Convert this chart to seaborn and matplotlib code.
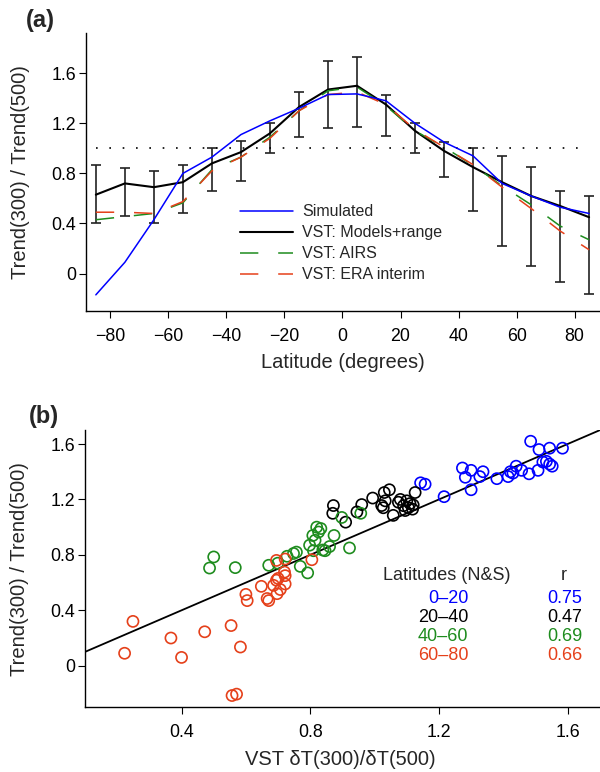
import numpy as np
import pandas as pd
import seaborn as sns
import matplotlib.pyplot as plt

# panel (a): ratio of trends vs latitude
lat = [-85, -75, -65, -55, -45, -35, -25, -15, -5, 5, 15, 25, 35, 45, 55, 65, 75, 85]
simulated = [-0.17, 0.09, 0.43, 0.80, 0.93, 1.11, 1.22, 1.32, 1.43, 1.435, 1.38, 1.20, 1.05, 0.94, 0.72, 0.62, 0.53, 0.48]
models = [0.63, 0.72, 0.69, 0.73, 0.88, 0.97, 1.12, 1.33, 1.47, 1.50, 1.35, 1.14, 0.98, 0.85, 0.73, 0.62, 0.54, 0.45]
models_lo = [0.40, 0.456, 0.405, 0.48, 0.66, 0.74, 0.96, 1.09, 1.16, 1.17, 1.10, 0.96, 0.77, 0.50, 0.22, 0.06, -0.07, -0.16]
models_hi = [0.87, 0.84, 0.82, 0.87, 1.00, 1.06, 1.205, 1.45, 1.70, 1.73, 1.43, 1.20, 1.05, 1.00, 0.94, 0.85, 0.66, 0.62]
airs = [0.43, 0.455, 0.48, 0.565, 0.83, 0.93, 1.09, 1.30, 1.46, 1.49, 1.34, 1.14, 1.01, 0.865, 0.70, 0.55, 0.38, 0.27]
era = [0.49, 0.49, 0.48, 0.575, 0.82, 0.93, 1.08, 1.30, 1.43, 1.45, 1.35, 1.15, 1.01, 0.87, 0.69, 0.52, 0.34, 0.19]

yticks = [0, 0.4, 0.8, 1.2, 1.6]
yticklabels = ['0', '0.4', '0.8', '1.2', '1.6']
xticks_a = [-80, -60, -40, -20, 0, 20, 40, 60, 80]
xticks_b = [0.4, 0.8, 1.2, 1.6]

# panel (b): scatter by latitude band
x_0_20 = [1.143, 1.157, 1.216, 1.273, 1.282, 1.30, 1.30, 1.327, 1.337, 1.38, 1.415, 1.422, 1.44,
          1.457, 1.48, 1.508, 1.523, 1.544, 1.552, 1.485, 1.511, 1.544, 1.584, 1.534, 1.43]
y_0_20 = [1.32, 1.31, 1.22, 1.427, 1.36, 1.41, 1.27, 1.365, 1.40, 1.35, 1.365, 1.40, 1.44,
          1.41, 1.385, 1.41, 1.47, 1.455, 1.44, 1.62, 1.56, 1.57, 1.57, 1.475, 1.39]
x_20_40 = [0.872, 0.87, 0.91, 0.945, 0.96, 0.994, 1.03, 1.046, 1.022, 1.033, 1.027, 1.058, 1.074,
           1.09, 1.10, 1.11, 1.118, 1.126, 1.12, 1.08, 1.105, 1.095]
y_20_40 = [1.156, 1.10, 1.036, 1.11, 1.163, 1.21, 1.25, 1.27, 1.156, 1.19, 1.14, 1.085, 1.18,
           1.155, 1.19, 1.17, 1.13, 1.25, 1.16, 1.20, 1.14, 1.12]
x_40_60 = [0.487, 0.50, 0.567, 0.671, 0.699, 0.728, 0.748, 0.757, 0.769, 0.792, 0.798, 0.808, 0.815,
           0.826, 0.833, 0.82, 0.81, 0.839, 0.846, 0.874, 0.922, 0.898, 0.957, 0.86]
y_40_60 = [0.705, 0.785, 0.708, 0.725, 0.74, 0.79, 0.81, 0.82, 0.717, 0.67, 0.87, 0.94, 0.905,
           0.965, 0.99, 1.00, 0.83, 0.835, 0.83, 0.94, 0.85, 1.07, 1.10, 0.86]
x_60_80 = [0.249, 0.223, 0.367, 0.40, 0.472, 0.554, 0.583, 0.557, 0.571, 0.60, 0.604, 0.648, 0.666,
           0.671, 0.686, 0.697, 0.707, 0.722, 0.695, 0.722, 0.72, 0.695, 0.722, 0.805, 0.70]
y_60_80 = [0.32, 0.09, 0.20, 0.06, 0.245, 0.29, 0.135, -0.215, -0.205, 0.515, 0.47, 0.573, 0.485,
           0.47, 0.58, 0.52, 0.55, 0.59, 0.617, 0.65, 0.676, 0.76, 0.77, 0.765, 0.63]

bands = ['0\u201320', '20\u201340', '40\u201360', '60\u201380']
r_values = ['0.75', '0.47', '0.69', '0.66']
band_colors = ['#0000ff', '#000000', '#1e8c1e', '#e5401a']

sns.set_style('ticks')
plt.rcParams['font.family'] = ['Liberation Sans', 'DejaVu Sans']
plt.rcParams['axes.linewidth'] = 1.0
plt.rcParams['xtick.major.size'] = 5
plt.rcParams['ytick.major.size'] = 5
plt.rcParams['xtick.color'] = 'black'
plt.rcParams['ytick.color'] = 'black'
plt.rcParams['axes.edgecolor'] = 'black'

fig = plt.figure(figsize=(6, 7.72), dpi=100)
ax1 = fig.add_axes([0.1433, 0.597, 0.855, 0.36])
ax2 = fig.add_axes([0.1417, 0.0838, 0.858, 0.359])

# ---- (a)
lat_arr = np.array(lat)
mod = np.array(models)
ax1.errorbar(lat_arr, mod, yerr=[mod - np.array(models_lo), np.array(models_hi) - mod],
             fmt='none', ecolor='#222222', elinewidth=1.2, capsize=3.6, capthick=1.2, zorder=1)
ax1.plot([lat[0], lat[-1]], [1, 1], ls=(0, (1, 7)), color='black', lw=1.2, zorder=1)
sns.lineplot(x=lat, y=simulated, color='#0000ff', lw=1.1, ax=ax1, label='Simulated', zorder=3)
sns.lineplot(x=lat, y=models, color='black', lw=1.5, ax=ax1, label='VST: Models+range', zorder=2)
sns.lineplot(x=lat, y=airs, color='#1e8c1e', lw=1.1, ls=(0, (12, 13)), ax=ax1, label='VST: AIRS', zorder=2)
sns.lineplot(x=lat, y=era, color='#e5401a', lw=1.1, ls=(0, (12, 13)), ax=ax1, label='VST: ERA interim', zorder=2)

ax1.set_xlim(-88.4, 88.4)
ax1.set_ylim(-0.30, 1.92)
ax1.set_xticks(xticks_a)
ax1.set_yticks(yticks)
ax1.set_yticklabels(yticklabels)
ax1.tick_params(labelsize=12.8)
ax1.tick_params(axis='y', pad=2)
ax1.tick_params(axis='x', pad=7)
ax1.set_xlabel('Latitude (degrees)', fontsize=14.5)
ax1.set_ylabel('Trend(300) / Trend(500)', fontsize=14.5)
ax1.xaxis.set_label_coords(0.501, -0.15)
ax1.yaxis.set_label_coords(-0.11, 0.5)
ax1.legend(loc='upper left', bbox_to_anchor=(0.30, 0.385), frameon=False, borderpad=0,
           borderaxespad=0, handlelength=3.3, handletextpad=0.6, labelspacing=0.38, fontsize=11.5)
sns.despine(ax=ax1)

# ---- (b)
df = pd.DataFrame({
    'x': x_0_20 + x_20_40 + x_40_60 + x_60_80,
    'y': y_0_20 + y_20_40 + y_40_60 + y_60_80,
    'band': [bands[0]] * len(x_0_20) + [bands[1]] * len(x_20_40)
            + [bands[2]] * len(x_40_60) + [bands[3]] * len(x_60_80),
})
ax2.axline((0, 0), slope=1, color='black', lw=1.3, zorder=1)
sns.scatterplot(data=df, x='x', y='y', hue='band', palette=dict(zip(bands, band_colors)),
                s=64, linewidth=1.2, legend=False, ax=ax2, zorder=2)
pts = ax2.collections[-1]
pts.set_edgecolors(pts.get_facecolors())
pts.set_facecolors('none')

ax2.set_xlim(0.1, 1.7)
ax2.set_ylim(-0.30, 1.70)
ax2.set_xticks(xticks_b)
ax2.set_xticklabels([str(v) for v in xticks_b])
ax2.set_yticks(yticks)
ax2.set_yticklabels(yticklabels)
ax2.tick_params(labelsize=12.8)
ax2.tick_params(axis='y', pad=2)
ax2.tick_params(axis='x', pad=7)
ax2.set_xlabel('VST \u03b4T(300)/\u03b4T(500)', fontsize=14.5)
ax2.set_ylabel('Trend(300) / Trend(500)', fontsize=14.5)
ax2.xaxis.set_label_coords(0.495, -0.153)
ax2.yaxis.set_label_coords(-0.108, 0.5)
sns.despine(ax=ax2)

ax2.text(1.224, 0.652, 'Latitudes (N&S)', ha='center', va='center', fontsize=13)
ax2.text(1.589, 0.652, 'r', ha='center', va='center', fontsize=13)
for i, (b, rv, c) in enumerate(zip(bands, r_values, band_colors)):
    yy = 0.485 - i * 0.138
    ax2.text(1.291, yy, b, ha='right', va='center', color=c, fontsize=13)
    ax2.text(1.646, yy, rv, ha='right', va='center', color=c, fontsize=13)

fig.text(40 / 600, 1 - 21 / 772, '(a)', ha='center', va='center', fontsize=17, fontweight='bold')
fig.text(44 / 600, 1 - 416 / 772, '(b)', ha='center', va='center', fontsize=17, fontweight='bold')

fig.savefig('out.png', dpi=100)
